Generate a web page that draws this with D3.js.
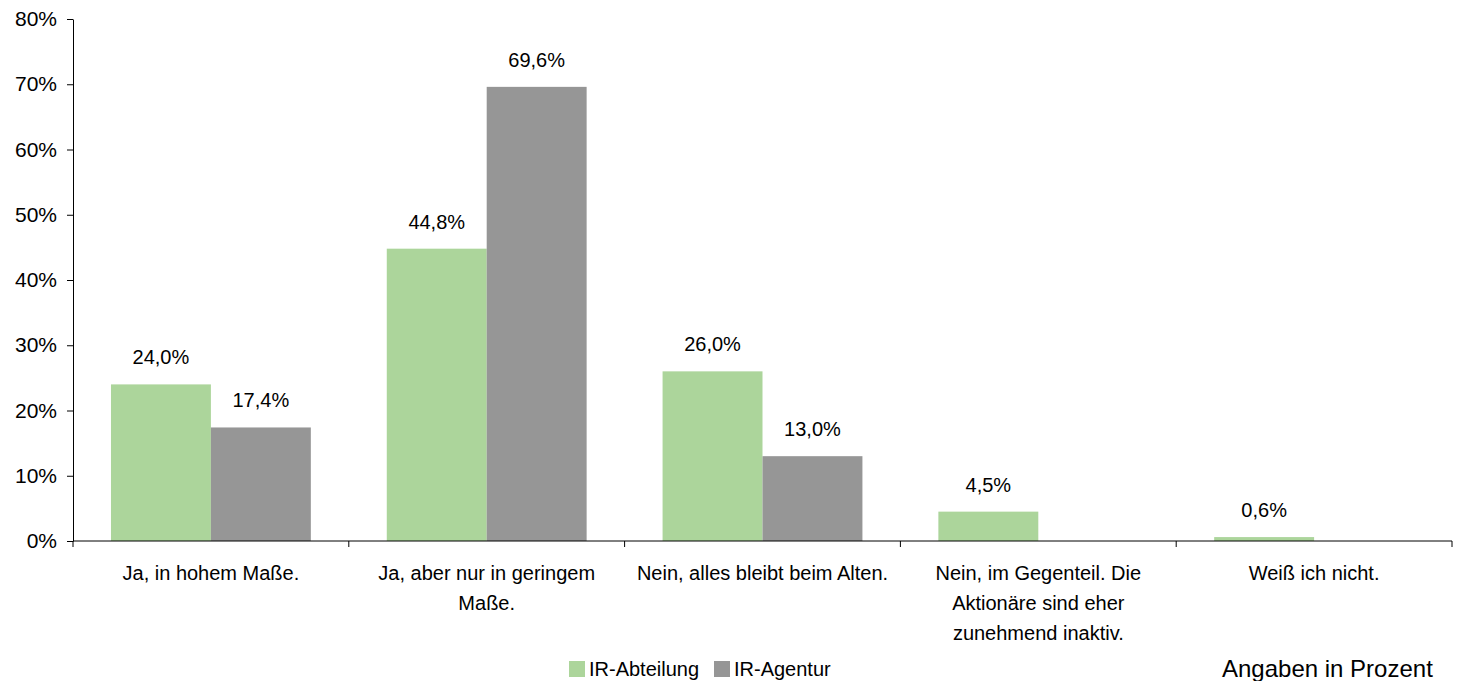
<!DOCTYPE html>
<html><head><meta charset="utf-8">
<script src="https://cdn.jsdelivr.net/npm/d3@7"></script>
<style>body{margin:0;background:#fff}svg{display:block;font-family:"Liberation Sans",Arial,sans-serif}</style>
</head><body>
<svg id="c" width="1461" height="681"></svg>
<script>
const categories = ["Ja, in hohem Maße.", "Ja, aber nur in geringem\nMaße.", "Nein, alles bleibt beim Alten.", "Nein, im Gegenteil. Die\nAktionäre sind eher\nzunehmend inaktiv.", "Weiß ich nicht."];
const seriesNames = ["IR-Abteilung", "IR-Agentur"];
const abteilung = [24.0, 44.8, 26.0, 4.5, 0.6];
const agentur = [17.4, 69.6, 13.0, null, null];
const yTicks = [0, 10, 20, 30, 40, 50, 60, 70, 80];
const colors = ["#acd59b", "#969696"];
const footnote = "Angaben in Prozent";

const FS = 20;
const svg = d3.select("#c");
const m = {l: 73, r: 1452, t: 19, b: 541};
const x = d3.scaleBand().domain(d3.range(categories.length)).range([m.l, m.r]).paddingInner(0).paddingOuter(0);
const inner = d3.scaleBand().domain([0, 1]).range([0, x.bandwidth()]).paddingOuter(0.38).paddingInner(0);
const y = d3.scaleLinear().domain([0, 80]).range([m.b, m.t]);
const fmt = v => v.toFixed(1).replace(".", ",") + "%";

// bars
const series = [abteilung, agentur];
series.forEach((vals, s) => {
  const g = svg.append("g");
  vals.forEach((v, i) => {
    if (v == null) return;
    g.append("rect").attr("x", x(i) + inner(s)).attr("width", inner.bandwidth())
      .attr("y", y(v)).attr("height", y(0) - y(v)).attr("fill", colors[s]);
    g.append("text").attr("x", x(i) + inner(s) + inner.bandwidth() / 2).attr("y", y(v) - 20)
      .attr("text-anchor", "middle").attr("font-size", FS).attr("fill", "#000").text(fmt(v));
  });
});

// y axis
const ya = svg.append("g").attr("transform", `translate(${m.l},0)`)
  .call(d3.axisLeft(y).tickValues(yTicks).tickFormat(d => d + "%").tickSize(6).tickSizeOuter(0));
ya.select(".domain").attr("stroke", "#000");
ya.selectAll(".tick line").attr("stroke", "#000");
ya.selectAll(".tick text").attr("font-size", 21).attr("fill", "#000").attr("x", -16).attr("font-family", "Liberation Sans, Arial, sans-serif");

// x axis
const xa = svg.append("g").attr("transform", `translate(0,${m.b})`);
xa.append("line").attr("x1", m.l).attr("x2", m.r).attr("y1", 0).attr("y2", 0).attr("stroke", "#000");
const bounds = d3.range(categories.length + 1).map(i => i < categories.length ? x(i) : x(i - 1) + x.bandwidth());
xa.selectAll("line.t").data(bounds).join("line").attr("class", "t")
  .attr("x1", d => d).attr("x2", d => d).attr("y1", 0).attr("y2", 6).attr("stroke", "#000");
categories.forEach((c, i) => {
  const t = xa.append("text").attr("text-anchor", "middle").attr("font-size", FS).attr("fill", "#000");
  c.split("\n").forEach((ln, k) => {
    t.append("tspan").attr("x", x(i) + x.bandwidth() / 2).attr("y", 39 + k * 30).text(ln);
  });
});

// legend
const lg = svg.append("g");
const lx = [569, 714];
seriesNames.forEach((n, s) => {
  lg.append("rect").attr("x", lx[s]).attr("y", 661).attr("width", 16).attr("height", 16).attr("fill", colors[s]);
  lg.append("text").attr("x", lx[s] + 20).attr("y", 676).attr("font-size", FS).attr("fill", "#000").text(n);
});

svg.append("text").attr("x", 1222).attr("y", 677).attr("font-size", 24).attr("fill", "#000").text(footnote);
</script>
</body></html>
